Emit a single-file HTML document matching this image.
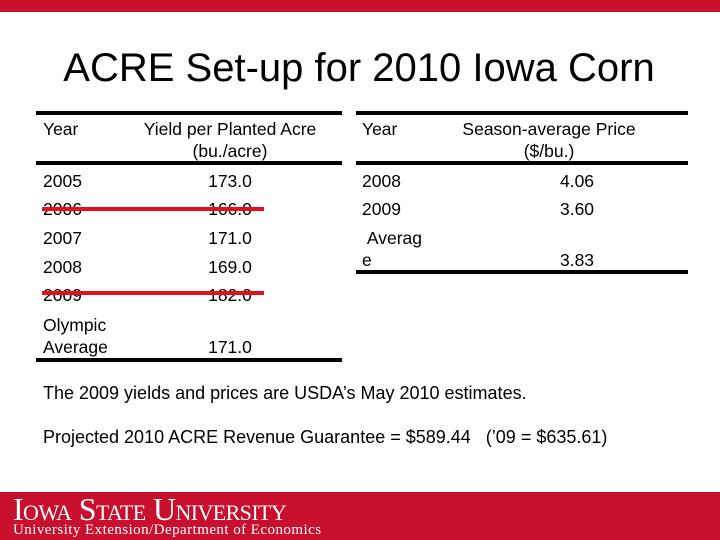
<!DOCTYPE html>
<html><head><meta charset="utf-8"><style>
body{margin:0;width:720px;height:540px;position:relative;overflow:hidden;background:#fff;font-family:"Liberation Sans",sans-serif;color:#000}
div{position:absolute}
.t{font-size:17.5px;line-height:22px;white-space:nowrap}
.c{text-align:center}
.hl{background:#000;height:4px}
.red{background:#e3101c;height:4px}
</style></head><body>
<div style="left:0;top:0;width:720px;height:12px;background:#c8102e"></div>
<div style="left:0;width:718px;top:43px;font-size:40px;line-height:50px;text-align:center">ACRE Set-up for 2010 Iowa Corn</div>

<div>
<div class="hl" style="left:36px;top:111px;width:306px"></div>
<div class="hl" style="left:36px;top:161px;width:306px"></div>
<div class="hl" style="left:36px;top:358px;width:306px"></div>
<div class="t" style="left:43px;top:118px">Year</div>
<div class="t c" style="left:120px;width:220px;top:118px">Yield per Planted Acre<br>(bu./acre)</div>
<div class="t" style="left:43px;top:170px">2005</div><div class="t c" style="left:170px;width:120px;top:170px">173.0</div>
<div class="t" style="left:43px;top:198px">2006</div><div class="t c" style="left:170px;width:120px;top:198px">166.0</div>
<div class="t" style="left:43px;top:227px">2007</div><div class="t c" style="left:170px;width:120px;top:227px">171.0</div>
<div class="t" style="left:43px;top:256px">2008</div><div class="t c" style="left:170px;width:120px;top:256px">169.0</div>
<div class="t" style="left:43px;top:284px">2009</div><div class="t c" style="left:170px;width:120px;top:284px">182.0</div>
<div class="t" style="left:43px;top:314px">Olympic<br>Average</div><div class="t c" style="left:170px;width:120px;top:336px">171.0</div>
<div class="red" style="left:42px;top:207px;width:222px"></div>
<div class="red" style="left:42px;top:291px;width:222px"></div>
</div>

<div>
<div class="hl" style="left:356px;top:111px;width:332px"></div>
<div class="hl" style="left:356px;top:161px;width:332px"></div>
<div class="hl" style="left:356px;top:270px;width:332px"></div>
<div class="t" style="left:362px;top:118px">Year</div>
<div class="t c" style="left:430px;width:238px;top:118px">Season-average Price<br>($/bu.)</div>
<div class="t" style="left:362px;top:170px">2008</div><div class="t c" style="left:517px;width:120px;top:170px">4.06</div>
<div class="t" style="left:362px;top:198px">2009</div><div class="t c" style="left:517px;width:120px;top:198px">3.60</div>
<div class="t" style="left:362px;top:227px">&nbsp;Averag<br>e</div><div class="t c" style="left:517px;width:120px;top:249px">3.83</div>
</div>

<div class="t" style="left:43px;top:382px;font-size:18px">The 2009 yields and prices are USDA’s May 2010 estimates.</div>
<div class="t" style="left:43px;top:426px;font-size:18px">Projected 2010 ACRE Revenue Guarantee = $589.44 &nbsp;&nbsp;(’09 = $635.61)</div>

<div style="left:0;top:492px;width:720px;height:48px;background:#c8102e"></div>
<div style="left:13px;top:494px;color:#fff;font-family:'Liberation Serif',serif;font-size:32px;line-height:30px;font-variant:small-caps;letter-spacing:-0.6px;white-space:nowrap">Iowa State University</div>
<div style="left:13px;top:521px;color:#fff;font-family:'Liberation Serif',serif;font-size:15px;line-height:18px;letter-spacing:0.45px;white-space:nowrap">University Extension/Department of Economics</div>
</body></html>
